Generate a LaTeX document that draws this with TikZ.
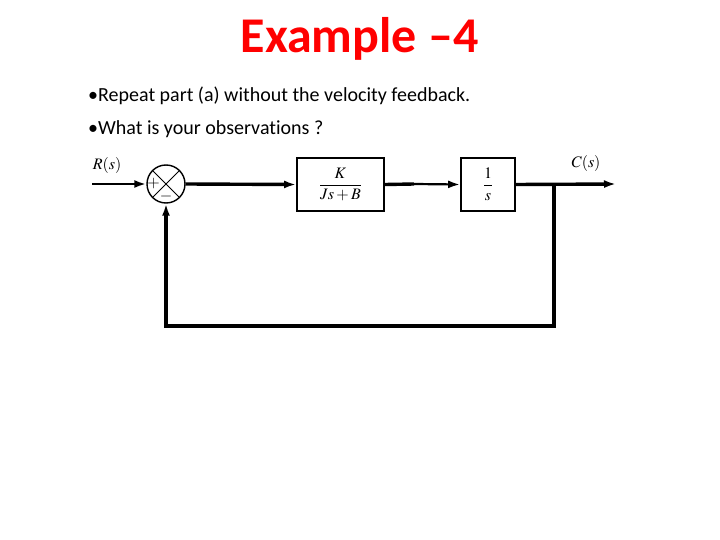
\documentclass[tikz,border=0pt]{standalone}
\usepackage{amsmath}
\usepackage{mathptmx}
\usepackage{fontspec}
\setmainfont{Carlito}[Ligatures=NoCommon]
\newfontfamily\tnr{Liberation Serif}
\usetikzlibrary{arrows.meta}
\begin{document}
\begin{tikzpicture}[x=1pt,y=-1pt,
  block/.style={draw,line width=1.8pt,inner sep=0pt},
  thick line/.style={line width=3.4pt},
  tip/.style={-{Latex[length=12pt,width=8pt]}},
  lab/.style={font=\fontsize{16}{18}\selectfont\tnr}]
\useasboundingbox (0,0) rectangle (720,540);
% title
\node[anchor=base,text=red,font=\fontsize{50}{54}\selectfont\bfseries] (title) at (359.5,53) {Example –4};
% bullets
\node[anchor=base west,font=\fontsize{20}{24}\selectfont,inner sep=0] (b1) at (88,102) {•Repeat part (a) without the velocity feedback.};
\node[anchor=base west,font=\fontsize{20}{24}\selectfont,inner sep=0] (b2) at (88,135) {•What is your observations ?};
% diagram
\node[circle,draw,line width=1.4pt,minimum size=38pt,inner sep=0pt] (sum) at (166,184) {};
\draw[line width=0.8pt] (sum.north west) -- (sum.south east) (sum.north east) -- (sum.south west);
\node[lab,inner sep=0] (plus) at (153.5,184) {$+$};
\node[lab,inner sep=0] (minus) at (166,196.5) {$-$};
\node[block,minimum width=87pt,minimum height=53pt,lab] (g1) at (340.5,184.5) {$\dfrac{K}{Js+B}$};
\node[block,minimum width=54pt,minimum height=53pt,lab] (g2) at (488,184.5) {$\dfrac{1}{s}$};
\coordinate (in) at (92,184);
\coordinate (mid) at (414,184);
\coordinate (out) at (616,184);
\coordinate (br) at (554,184);
\coordinate (c1) at (554,326);
\coordinate (c2) at (166,326);
\node[lab,anchor=south] (R) at (107,177) {$R(s)$};
\node[lab,anchor=south] (C) at (586,175) {$C(s)$};
\draw[line width=2.4pt,tip] (in) -- (sum.west);
\draw[thick line,tip] (sum.east) -- (g1.west);
\draw[thick line] (g1.east) -- (mid);
\draw[line width=2.2pt,tip] (mid) -- (g2.west);
\draw[thick line,tip] (g2.east) -- (out);
\draw[line width=4pt,line join=miter,tip] (br) -- (c1) -- (c2) -- (sum.south);
\end{tikzpicture}
\end{document}
